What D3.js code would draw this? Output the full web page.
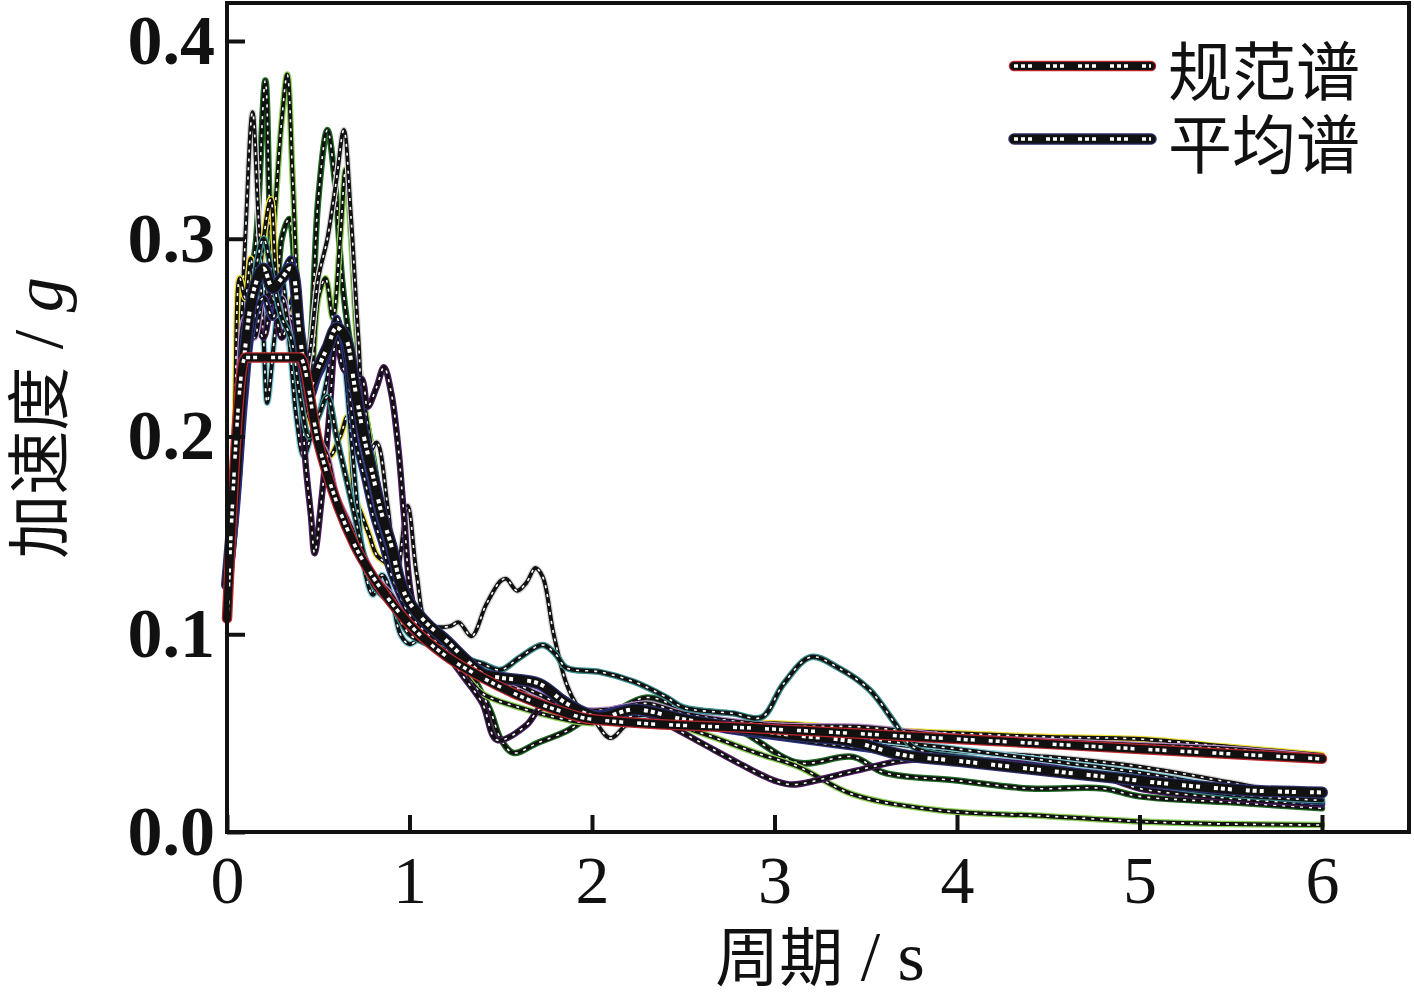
<!DOCTYPE html>
<html>
<head>
<meta charset="utf-8">
<script src="https://d3js.org/d3.v7.min.js"></script>
<style>
  body { margin: 0; background: #fff; }
  svg { display: block; }
</style>
</head>
<body>
<svg width="1414" height="1000"></svg>
<script>
// ---- data ([period s, acceleration g]) ----
const xTicks = [0, 1, 2, 3, 4, 5, 6];
const yTicks = [0.0, 0.1, 0.2, 0.3, 0.4];
const legendLabels = ["规范谱", "平均谱"];

const specSpectrum = [[0,0.108],[0.1,0.24],[0.4,0.24],[0.5,0.197],[0.6,0.167],[0.7,0.145],[0.8,0.129],
  [0.9,0.116],[1.0,0.105],[1.2,0.089],[1.4,0.078],[1.6,0.069],[1.8,0.062],[2.0,0.057],[3,0.052],
  [4,0.047],[5,0.042],[6,0.037]];

const meanSpectrum = [[0,0.125],[0.05,0.18],[0.1,0.245],[0.15,0.275],[0.2,0.285],[0.25,0.275],[0.3,0.28],
  [0.35,0.285],[0.4,0.25],[0.45,0.225],[0.5,0.235],[0.55,0.245],[0.6,0.255],[0.65,0.25],[0.7,0.225],
  [0.75,0.2],[0.8,0.18],[0.85,0.16],[0.9,0.145],[0.95,0.126],[1.0,0.116],[1.1,0.105],[1.2,0.097],
  [1.31,0.087],[1.4,0.08],[1.5,0.078],[1.71,0.075],[1.86,0.065],[2.04,0.058],[2.23,0.062],[2.5,0.057],
  [2.77,0.053],[3.1,0.049],[3.41,0.046],[3.7,0.039],[4.0,0.036],[4.4,0.032],[4.8,0.028],[5.2,0.024],
  [5.6,0.021],[6,0.02]];

const rec1 = [[0,0.12],[0.04,0.15],[0.08,0.22],[0.12,0.27],[0.16,0.30],[0.21,0.38],[0.24,0.30],[0.27,0.27],
  [0.3,0.30],[0.34,0.31],[0.38,0.27],[0.42,0.22],[0.46,0.25],[0.5,0.32],[0.55,0.355],[0.59,0.33],
  [0.63,0.28],[0.67,0.25],[0.71,0.23],[0.76,0.21],[0.8,0.19],[0.85,0.16],[0.9,0.135],[1.0,0.11],
  [1.1,0.1],[1.2,0.094],[1.3,0.085],[1.44,0.062],[1.5,0.047],[1.57,0.040],[1.7,0.045],[1.86,0.051],
  [1.97,0.057],[2.1,0.06],[2.3,0.068],[2.5,0.062],[2.8,0.052],[3.13,0.035],[3.43,0.038],[3.6,0.030],
  [4.0,0.026],[4.4,0.022],[4.8,0.022],[5.0,0.018],[5.5,0.015],[6,0.012]];

const rec2 = [[0,0.125],[0.05,0.17],[0.1,0.24],[0.15,0.28],[0.2,0.26],[0.25,0.30],[0.3,0.36],[0.33,0.383],
  [0.36,0.33],[0.4,0.25],[0.45,0.21],[0.5,0.27],[0.54,0.28],[0.58,0.26],[0.62,0.30],[0.65,0.335],
  [0.68,0.30],[0.72,0.24],[0.78,0.20],[0.85,0.16],[0.92,0.13],[1.0,0.112],[1.1,0.098],[1.2,0.09],
  [1.3,0.08],[1.4,0.07],[1.6,0.063],[1.8,0.058],[2.0,0.055],[2.3,0.058],[2.6,0.05],[2.9,0.04],
  [3.13,0.033],[3.43,0.019],[3.9,0.011],[4.5,0.008],[5.07,0.005],[5.5,0.004],[6,0.0035]];

const rec3 = [[0,0.13],[0.05,0.2],[0.1,0.3],[0.14,0.364],[0.18,0.30],[0.22,0.27],[0.26,0.28],[0.3,0.27],
  [0.35,0.24],[0.4,0.22],[0.45,0.24],[0.5,0.28],[0.55,0.30],[0.6,0.33],[0.64,0.355],[0.68,0.31],
  [0.72,0.25],[0.77,0.19],[0.82,0.197],[0.88,0.165],[0.93,0.13],[0.99,0.165],[1.04,0.13],[1.1,0.105],
  [1.22,0.104],[1.27,0.106],[1.34,0.099],[1.42,0.115],[1.5,0.127],[1.53,0.128],[1.59,0.122],
  [1.64,0.126],[1.69,0.1335],[1.73,0.129],[1.79,0.1],[1.86,0.075],[1.92,0.064],[2.0,0.058],
  [2.1,0.0475],[2.2,0.055],[2.4,0.06],[2.7,0.055],[3.0,0.052],[3.5,0.046],[4.0,0.041],[4.5,0.038],
  [5.0,0.033],[5.5,0.025],[6,0.016]];

const rec4 = [[0,0.13],[0.04,0.2],[0.07,0.28],[0.1,0.27],[0.13,0.29],[0.16,0.27],[0.2,0.30],[0.24,0.32],
  [0.28,0.27],[0.32,0.26],[0.36,0.27],[0.4,0.25],[0.45,0.21],[0.5,0.2],[0.56,0.19],[0.62,0.2],
  [0.66,0.21],[0.7,0.17],[0.74,0.16],[0.78,0.15],[0.82,0.14],[0.88,0.135],[0.95,0.12],[1.0,0.11],
  [1.1,0.1],[1.2,0.095],[1.3,0.088],[1.4,0.08],[1.6,0.075],[1.8,0.063],[2.0,0.058],[2.2,0.06],
  [2.4,0.058],[2.7,0.055],[3.0,0.055],[3.5,0.052],[4.0,0.05],[4.5,0.048],[5.0,0.047],[5.5,0.043],
  [6,0.039]];

const rec5 = [[0,0.12],[0.05,0.17],[0.1,0.24],[0.14,0.27],[0.17,0.29],[0.2,0.25],[0.22,0.217],[0.26,0.25],
  [0.3,0.28],[0.34,0.25],[0.38,0.21],[0.42,0.19],[0.46,0.2],[0.5,0.21],[0.55,0.23],[0.6,0.26],
  [0.64,0.24],[0.68,0.2],[0.72,0.16],[0.76,0.13],[0.8,0.12],[0.85,0.13],[0.9,0.12],[0.95,0.1],
  [1.0,0.095],[1.1,0.1],[1.2,0.09],[1.3,0.082],[1.5,0.075],[1.7,0.07],[1.9,0.062],[2.1,0.058],
  [2.4,0.06],[2.7,0.056],[3.0,0.052],[3.5,0.047],[4.0,0.042],[4.5,0.036],[5.0,0.03],[5.5,0.022],
  [6,0.015]];

const rec6 = [[0,0.12],[0.05,0.18],[0.1,0.24],[0.15,0.26],[0.2,0.25],[0.25,0.27],[0.3,0.25],[0.35,0.26],
  [0.4,0.23],[0.43,0.187],[0.46,0.16],[0.48,0.141],[0.52,0.17],[0.56,0.21],[0.6,0.25],[0.64,0.234],
  [0.7,0.23],[0.74,0.229],[0.77,0.215],[0.82,0.225],[0.86,0.235],[0.9,0.222],[0.94,0.193],[0.97,0.16],
  [1.02,0.115],[1.1,0.1],[1.2,0.09],[1.3,0.078],[1.4,0.065],[1.48,0.0465],[1.64,0.054],[1.71,0.062],
  [1.8,0.065],[2.0,0.06],[2.2,0.063],[2.4,0.055],[2.6,0.045],[2.8,0.035],[3.0,0.026],[3.1,0.024],
  [3.4,0.03],[3.7,0.036],[4.0,0.037],[4.4,0.034],[4.8,0.028],[5.0,0.022],[5.5,0.017],[6,0.014]];

const rec7 = [[0,0.125],[0.05,0.19],[0.1,0.26],[0.15,0.25],[0.2,0.27],[0.25,0.26],[0.3,0.27],[0.35,0.25],
  [0.4,0.24],[0.45,0.22],[0.5,0.2],[0.55,0.19],[0.6,0.17],[0.65,0.16],[0.7,0.15],[0.75,0.14],
  [0.8,0.13],[0.85,0.125],[0.9,0.12],[1.0,0.105],[1.1,0.097],[1.2,0.09],[1.35,0.08],[1.5,0.078],
  [1.7,0.07],[1.9,0.062],[2.1,0.062],[2.3,0.065],[2.5,0.06],[3.0,0.054],[3.5,0.053],[4.0,0.048],
  [4.5,0.046],[5.0,0.044],[5.5,0.042],[6,0.038]];

const rec8 = [[0,0.12],[0.05,0.16],[0.1,0.22],[0.15,0.26],[0.2,0.27],[0.25,0.26],[0.3,0.28],[0.35,0.29],
  [0.38,0.26],[0.42,0.23],[0.46,0.22],[0.5,0.23],[0.55,0.24],[0.6,0.26],[0.65,0.24],[0.7,0.2],
  [0.75,0.18],[0.8,0.16],[0.85,0.145],[0.9,0.13],[1.0,0.11],[1.1,0.1],[1.2,0.092],[1.3,0.085],
  [1.4,0.079],[1.6,0.077],[1.8,0.07],[2.0,0.06],[2.2,0.063],[2.4,0.06],[2.7,0.052],[3.0,0.048],
  [3.5,0.042],[4.0,0.036],[4.5,0.032],[5.0,0.026],[5.5,0.02],[6,0.015]];

const rec9 = [[0,0.13],[0.05,0.18],[0.1,0.25],[0.15,0.28],[0.2,0.3],[0.25,0.28],[0.3,0.26],[0.35,0.25],
  [0.4,0.22],[0.45,0.2],[0.5,0.21],[0.55,0.22],[0.6,0.2],[0.65,0.18],[0.7,0.16],[0.75,0.14],
  [0.8,0.125],[0.9,0.115],[1.0,0.1],[1.1,0.095],[1.2,0.092],[1.3,0.088],[1.4,0.085],[1.5,0.082],
  [1.6,0.088],[1.73,0.0946],[1.8,0.09],[1.86,0.083],[2.04,0.081],[2.23,0.076],[2.41,0.068],
  [2.5,0.063],[2.77,0.06],[2.93,0.058],[3.05,0.075],[3.2,0.0885],[3.35,0.083],[3.52,0.072],
  [3.66,0.055],[3.76,0.043],[4.1,0.037],[4.4,0.033],[5.0,0.025],[5.5,0.019],[6,0.016]];

const records = [rec1, rec2, rec3, rec4, rec5, rec6, rec7, rec8, rec9];
const recordColors = ["#1f6a22", "#8ccf55", "#d8d8d8", "#eedc36", "#84cddd", "#4a1a5e", "#b98acb", "#2b3584", "#3a8c8c"];

// ---- layout ----
const svg = d3.select("svg");
const plotLeft = 227, plotRight = 1409, plotTop = 3, plotBottom = 832;

const x = d3.scaleLinear().domain([0, 6]).range([plotLeft, plotLeft + 6 * 182.5]);
const y = d3.scaleLinear().domain([0, 0.4]).range([plotBottom, plotBottom - 0.4 * 1977.5]);

const smooth = d3.line()
    .x(d => x(d[0]))
    .y(d => y(d[1]))
    .curve(d3.curveCatmullRom.alpha(0.5));

const straight = d3.line()
    .x(d => x(d[0]))
    .y(d => y(d[1]))
    .curve(d3.curveMonotoneX);

// each trace: coloured rim, black core, white dashes on top
function trace(g, d, gen, color, w, dash, dashW) {
    g.append("path").attr("d", gen(d)).attr("fill", "none")
        .attr("stroke", color).attr("stroke-width", w + 2.5)
        .attr("stroke-linejoin", "round").attr("stroke-linecap", "round");
    g.append("path").attr("d", gen(d)).attr("fill", "none")
        .attr("stroke", "#111").attr("stroke-width", w)
        .attr("stroke-linejoin", "round").attr("stroke-linecap", "round");
    g.append("path").attr("d", gen(d)).attr("fill", "none")
        .attr("stroke", "#fff").attr("stroke-width", dashW)
        .attr("stroke-dasharray", dash);
}

const plot = svg.append("g").attr("class", "traces");

records.forEach(function(r, i) {
    trace(plot, r, smooth, recordColors[i], 4, "3,6", 1.6);
});

trace(plot, meanSpectrum, smooth, "#2a2f6e", 9.5, "4,3,4,3,4,14", 4);
trace(plot, specSpectrum, straight, "#c0262b", 8, "4,3,4,3,4,14", 3.5);

// ---- axes ----
const serif = "'Liberation Serif', 'Times New Roman', serif";

const yAxis = svg.append("g")
    .attr("transform", "translate(" + plotLeft + ",0)")
    .call(d3.axisLeft(y).tickValues(yTicks).tickFormat(d3.format(".1f"))
        .tickSizeInner(-18).tickSizeOuter(0).tickPadding(12));
yAxis.select(".domain").remove();
yAxis.selectAll(".tick line").attr("stroke", "#111").attr("stroke-width", 4);
yAxis.selectAll(".tick text")
    .attr("font-family", serif).attr("font-size", 70).attr("font-weight", "bold")
    .attr("fill", "#111");

const xAxis = svg.append("g")
    .attr("transform", "translate(0," + plotBottom + ")")
    .call(d3.axisBottom(x).tickValues(xTicks).tickFormat(d3.format("d"))
        .tickSizeInner(-17).tickSizeOuter(0).tickPadding(23));
xAxis.select(".domain").remove();
xAxis.selectAll(".tick line").attr("stroke", "#111").attr("stroke-width", 4);
xAxis.selectAll(".tick text")
    .attr("font-family", serif).attr("font-size", 68)
    .attr("fill", "#111");

svg.append("rect")
    .attr("x", plotLeft).attr("y", plotTop)
    .attr("width", plotRight - plotLeft).attr("height", plotBottom - plotTop)
    .attr("fill", "none").attr("stroke", "#111").attr("stroke-width", 4);

// axis titles
const cjk = "'Liberation Serif', 'Noto Sans CJK SC', serif";

const xt = svg.append("text")
    .attr("x", 820).attr("y", 980)
    .attr("text-anchor", "middle")
    .attr("font-family", cjk).attr("font-size", 64).attr("fill", "#111");
xt.append("tspan").text("周期");
xt.append("tspan").attr("font-size", 70).text(" / s");

const yt = svg.append("text")
    .attr("transform", "translate(62,418) rotate(-90)")
    .attr("text-anchor", "middle")
    .attr("font-family", cjk).attr("font-size", 64).attr("fill", "#111");
yt.append("tspan").text("加速度");
yt.append("tspan").attr("font-size", 70).text(" / ");
yt.append("tspan").attr("font-size", 70).attr("font-style", "italic").text("g");

// ---- legend ----
const legend = svg.append("g").attr("class", "legend");
const legendStyles = [{ color: "#c0262b", w: 8 }, { color: "#2a2f6e", w: 9 }];
const legendRows = [66, 139];

legendLabels.forEach(function(label, i) {
    const ly = legendRows[i];
    const seg = [[x.invert(1014), y.invert(ly)], [x.invert(1151), y.invert(ly)]];
    trace(legend, seg, straight, legendStyles[i].color, legendStyles[i].w, "4,3,4,3,4,14", 3.5);
    legend.append("text")
        .attr("x", 1168).attr("y", ly + 29)
        .attr("font-family", cjk).attr("font-size", 64).attr("fill", "#111")
        .text(label);
});
</script>
</body>
</html>
